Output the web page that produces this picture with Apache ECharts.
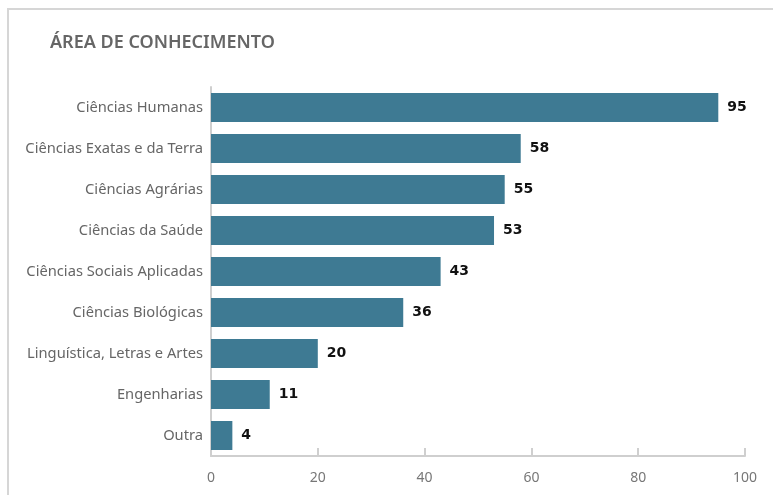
<!DOCTYPE html>
<html>
<head>
<meta charset="utf-8">
<script src="https://cdn.jsdelivr.net/npm/echarts@6/dist/echarts.min.js"></script>
<style>
html,body{margin:0;padding:0;background:#fff;}
#frame{position:absolute;left:7px;top:8px;width:800px;height:520px;border-left:2px solid #d6d6d6;border-top:2px solid #d6d6d6;}
#chart{position:absolute;left:0;top:0;width:773px;height:495px;}
</style>
</head>
<body>
<div id="frame"></div>
<div id="chart"></div>
<script>
const categories = ["Ciências Humanas","Ciências Exatas e da Terra","Ciências Agrárias","Ciências da Saúde","Ciências Sociais Aplicadas","Ciências Biológicas","Linguística, Letras e Artes","Engenharias","Outra"];
const values = [95,58,55,53,43,36,20,11,4];
const xTicks = [0,20,40,60,80,100];

const chart = echarts.init(document.getElementById('chart'), null, {renderer:'canvas'});
chart.setOption({
  animation:false,
  title:{text:"ÁREA DE CONHECIMENTO",left:45,top:29,textStyle:{fontFamily:"Noto Sans",fontSize:18,fontWeight:600,color:"#666"}},
  grid:{left:211,right:28,top:87,bottom:39,containLabel:false},
  xAxis:{type:'value',min:xTicks[0],max:xTicks[xTicks.length-1],interval:20,
    axisLine:{show:true,lineStyle:{color:'#cfcfcf',width:2}},
    axisTick:{show:true,inside:true,length:8,lineStyle:{color:'#cfcfcf',width:2}},
    splitLine:{show:false},
    axisLabel:{margin:15,color:'#777',fontFamily:'Noto Sans',fontSize:14}},
  yAxis:{type:'category',inverse:true,data:categories,
    axisLine:{show:true,lineStyle:{color:'#cfcfcf',width:2}},
    axisTick:{show:false},
    axisLabel:{margin:8,color:'#666',fontFamily:'Noto Sans',fontSize:14.7}},
  series:[{type:'bar',data:values,barWidth:29,itemStyle:{color:'#3e7a93'},
    label:{show:true,position:'right',distance:9,color:'#111',fontFamily:'DejaVu Sans',fontWeight:'bold',fontSize:14}}]
});
</script>
</body>
</html>
